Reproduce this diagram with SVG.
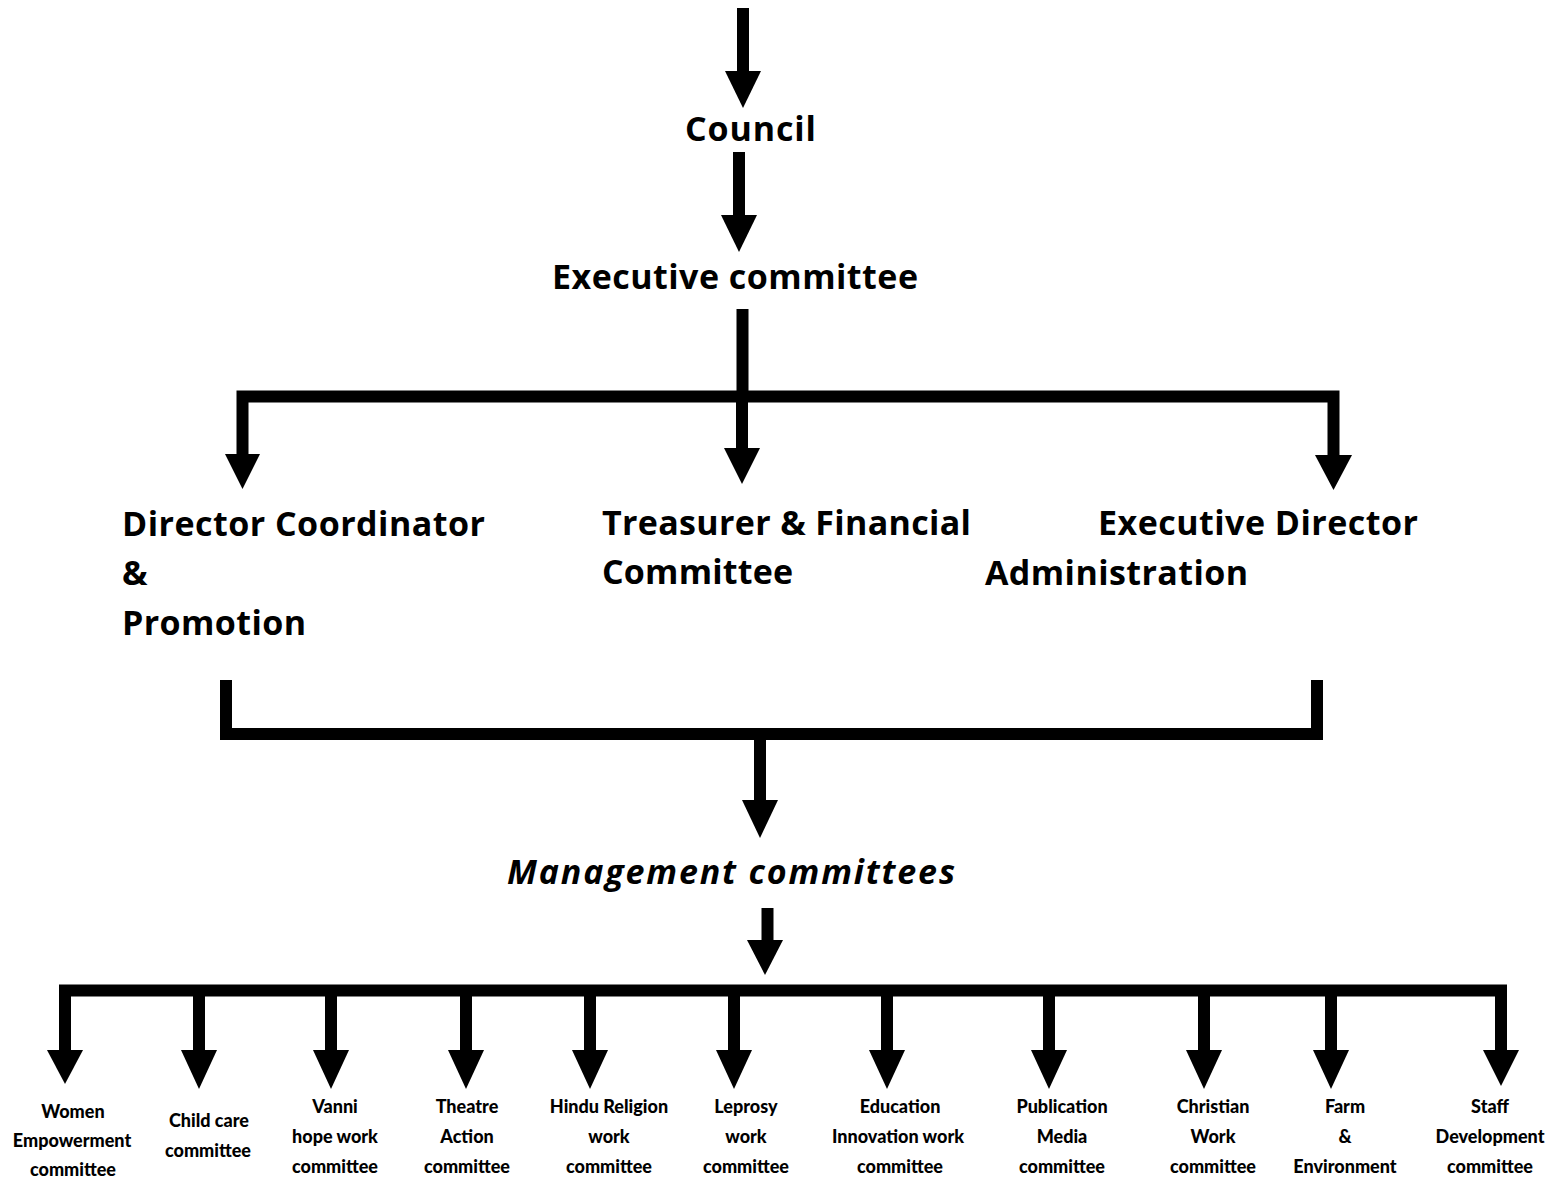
<svg xmlns="http://www.w3.org/2000/svg" width="1567" height="1182" viewBox="0 0 1567 1182">
<style>
.h{font-family:"Open Sans","DejaVu Sans",sans-serif;font-weight:700;font-size:34px;fill:#000}
.i{font-style:italic}
.s{font-family:Lato,"Open Sans",sans-serif;font-weight:900;font-size:18px;fill:#000;text-anchor:middle}
.ln{fill:none;stroke:#000;stroke-width:12;stroke-linejoin:miter;stroke-linecap:butt}
.hd{fill:#000}
</style>
<rect width="1567" height="1182" fill="#fff"/>
<g id="connectors">
<line class="ln" x1="743" y1="8" x2="743" y2="72"/>
<polygon class="hd" points="725,71 761,71 743,108"/>
<line class="ln" x1="739" y1="152" x2="739" y2="216"/>
<polygon class="hd" points="721,215 757,215 739,252"/>
<line class="ln" x1="742.5" y1="309" x2="742.5" y2="396"/>
<polyline class="ln" points="242.5,456 242.5,396.5 1333.5,396.5 1333.5,456"/>
<line class="ln" x1="742" y1="396" x2="742" y2="449"/>
<polygon class="hd" points="724,448 760,448 742,484"/>
<polygon class="hd" points="225,454 260,454 242.5,489"/>
<polygon class="hd" points="1315,455 1352,455 1333.5,490"/>
<polyline class="ln" points="226,680 226,734 1317,734 1317,680"/>
<line class="ln" x1="760" y1="734" x2="760" y2="802"/>
<polygon class="hd" points="742,800 778,800 760,838"/>
<line class="ln" x1="767.5" y1="908" x2="767.5" y2="941"/>
<polygon class="hd" points="747,940 783,940 765,975"/>
<polyline class="ln" points="65,1051 65,990.5 1501,990.5 1501,1051"/>
<polygon class="hd" points="47,1050 83,1050 65,1084"/>
<polygon class="hd" points="1483,1050 1519,1050 1501,1086"/>
<line class="ln" x1="199" y1="990" x2="199" y2="1051"/>
<polygon class="hd" points="181,1050 217,1050 199,1089"/>
<line class="ln" x1="331" y1="990" x2="331" y2="1051"/>
<polygon class="hd" points="313,1050 349,1050 331,1089"/>
<line class="ln" x1="466" y1="990" x2="466" y2="1051"/>
<polygon class="hd" points="448,1050 484,1050 466,1089"/>
<line class="ln" x1="590" y1="990" x2="590" y2="1051"/>
<polygon class="hd" points="572,1050 608,1050 590,1089"/>
<line class="ln" x1="734" y1="990" x2="734" y2="1051"/>
<polygon class="hd" points="716,1050 752,1050 734,1089"/>
<line class="ln" x1="887" y1="990" x2="887" y2="1051"/>
<polygon class="hd" points="869,1050 905,1050 887,1089"/>
<line class="ln" x1="1049" y1="990" x2="1049" y2="1051"/>
<polygon class="hd" points="1031,1050 1067,1050 1049,1089"/>
<line class="ln" x1="1204" y1="990" x2="1204" y2="1051"/>
<polygon class="hd" points="1186,1050 1222,1050 1204,1089"/>
<line class="ln" x1="1331" y1="990" x2="1331" y2="1051"/>
<polygon class="hd" points="1313,1050 1349,1050 1331,1089"/>
</g>
<g id="council"><text class="h" x="685" y="141" textLength="131">Council</text></g>
<g id="executive-committee"><text class="h" x="552" y="289" textLength="366">Executive committee</text></g>
<g id="director-coordinator">
<text class="h" x="122" y="536" textLength="363">Director Coordinator</text>
<text class="h" x="122" y="585">&amp;</text>
<text class="h" x="122" y="635" textLength="184">Promotion</text>
</g>
<g id="treasurer">
<text class="h" x="602" y="535" textLength="369">Treasurer &amp; Financial</text>
<text class="h" x="602" y="584" textLength="191">Committee</text>
</g>
<g id="executive-director">
<text class="h" x="1098" y="535" textLength="320">Executive Director</text>
<text class="h" x="985" y="585" textLength="263">Administration</text>
</g>
<g id="management-committees"><text class="h i" x="507" y="884" textLength="448">Management committees</text></g>
<g id="women"><text class="s" x="73" y="1118">Women</text><text class="s" x="72" y="1147">Empowerment</text><text class="s" x="73" y="1176">committee</text></g>
<g id="childcare"><text class="s" x="209" y="1127">Child care</text><text class="s" x="208" y="1157">committee</text></g>
<g id="vanni"><text class="s" x="335" y="1113">Vanni</text><text class="s" x="335" y="1143">hope work</text><text class="s" x="335" y="1173">committee</text></g>
<g id="theatre"><text class="s" x="467" y="1113">Theatre</text><text class="s" x="467" y="1143">Action</text><text class="s" x="467" y="1173">committee</text></g>
<g id="hindu"><text class="s" x="609" y="1113">Hindu Religion</text><text class="s" x="609" y="1143">work</text><text class="s" x="609" y="1173">committee</text></g>
<g id="leprosy"><text class="s" x="746" y="1113">Leprosy</text><text class="s" x="746" y="1143">work</text><text class="s" x="746" y="1173">committee</text></g>
<g id="education"><text class="s" x="900" y="1113">Education</text><text class="s" x="898" y="1143">Innovation work</text><text class="s" x="900" y="1173">committee</text></g>
<g id="publication"><text class="s" x="1062" y="1113">Publication</text><text class="s" x="1062" y="1143">Media</text><text class="s" x="1062" y="1173">committee</text></g>
<g id="christian"><text class="s" x="1213" y="1113">Christian</text><text class="s" x="1213" y="1143">Work</text><text class="s" x="1213" y="1173">committee</text></g>
<g id="farm"><text class="s" x="1345" y="1113">Farm</text><text class="s" x="1345" y="1143">&amp;</text><text class="s" x="1345" y="1173">Environment</text></g>
<g id="staff"><text class="s" x="1490" y="1113">Staff</text><text class="s" x="1490" y="1143">Development</text><text class="s" x="1490" y="1173">committee</text></g>
</svg>
